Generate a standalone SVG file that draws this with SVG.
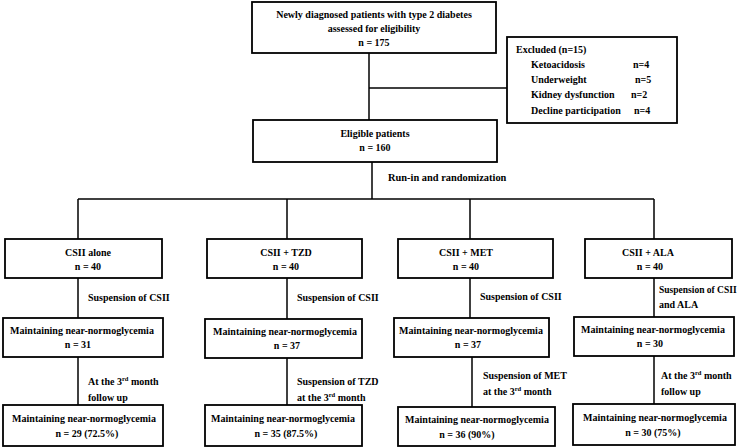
<svg xmlns="http://www.w3.org/2000/svg" width="741" height="448" viewBox="0 0 741 448">
<style>
rect{fill:#fff;stroke:#000;stroke-width:1.8}
line,path{stroke:#000;stroke-width:1.5;fill:none}
text{font-family:"Liberation Serif","Times New Roman",serif;font-weight:bold;font-size:10px;fill:#000}
.c{text-anchor:middle}
.l{font-size:10px}
.r{font-size:10.4px}
.s{font-size:6.5px}
</style>
<rect x="0" y="0" width="741" height="448" style="stroke:none"/>
<g id="connectors">
<line x1="369" y1="53" x2="369" y2="120"/>
<line x1="369" y1="88" x2="507" y2="88"/>
<line x1="372" y1="162" x2="372" y2="199"/>
<line x1="78" y1="199" x2="654" y2="199"/>
<line x1="78" y1="199" x2="78" y2="239"/>
<line x1="287" y1="199" x2="287" y2="239"/>
<line x1="470" y1="199" x2="470" y2="239"/>
<line x1="654" y1="199" x2="654" y2="239"/>
<line x1="78" y1="278" x2="78" y2="318"/>
<line x1="287" y1="278" x2="287" y2="319"/>
<line x1="470" y1="278" x2="470" y2="318"/>
<line x1="654" y1="278" x2="654" y2="317"/>
<line x1="78" y1="357" x2="78" y2="405"/>
<line x1="287" y1="358" x2="287" y2="405"/>
<line x1="472" y1="357" x2="472" y2="407"/>
<line x1="654" y1="356" x2="654" y2="404"/>
<text class="r" x="388" y="181">Run-in and randomization</text>
<text class="l" x="88" y="301">Suspension of CSII</text>
<text class="l" x="297" y="301">Suspension of CSII</text>
<text class="l" x="480" y="300">Suspension of CSII</text>
<text class="l" x="659" y="293" style="font-size:9.5px">Suspension of CSII</text>
<text class="l" x="659" y="308">and ALA</text>
<text class="l" x="88" y="385">At the 3<tspan class="s" dy="-4">rd</tspan><tspan dy="4"> month</tspan></text>
<text class="l" x="88" y="401">follow up</text>
<text class="l" x="297" y="385">Suspension of TZD</text>
<text class="l" x="297" y="401">at the 3<tspan class="s" dy="-4">rd</tspan><tspan dy="4"> month</tspan></text>
<text class="l" x="483" y="379">Suspension of MET</text>
<text class="l" x="483" y="395">at the 3<tspan class="s" dy="-4">rd</tspan><tspan dy="4"> month</tspan></text>
<text class="l" x="661" y="379">At the 3<tspan class="s" dy="-4">rd</tspan><tspan dy="4"> month</tspan></text>
<text class="l" x="661" y="395">follow up</text>
</g>
<g id="screening">
<rect x="252" y="2" width="244" height="51"/>
<text class="c" x="374" y="18">Newly diagnosed patients with type 2 diabetes</text>
<text class="c" x="374" y="32">assessed for eligibility</text>
<text class="c" x="374" y="46">n = 175</text>
</g>
<g id="excluded">
<rect x="507" y="37" width="170" height="86"/>
<text x="516" y="53">Excluded (n=15)</text>
<text x="531" y="68">Ketoacidosis</text><text x="633" y="68">n=4</text>
<text x="531" y="83">Underweight</text><text x="635" y="83">n=5</text>
<text x="531" y="98">Kidney dysfunction</text><text x="631" y="98">n=2</text>
<text x="531" y="114">Decline participation</text><text x="634" y="114">n=4</text>
</g>
<g id="eligible">
<rect x="253" y="120" width="244" height="42"/>
<text class="c" x="375" y="137">Eligible patients</text>
<text class="c" x="375" y="151">n = 160</text>
</g>
<g id="csii-alone">
<rect x="5" y="239" width="157" height="39"/>
<text class="c" x="88" y="256">CSII alone</text>
<text class="c" x="88" y="270">n = 40</text>
</g>
<g id="csii-tzd">
<rect x="207" y="239" width="155" height="39"/>
<text class="c" x="286" y="256">CSII + TZD</text>
<text class="c" x="286" y="270">n = 40</text>
</g>
<g id="csii-met">
<rect x="398" y="239" width="155" height="39"/>
<text class="c" x="466" y="256">CSII + MET</text>
<text class="c" x="466" y="270">n = 40</text>
</g>
<g id="csii-ala">
<rect x="585" y="239" width="147" height="39"/>
<text class="c" x="648" y="256">CSII + ALA</text>
<text class="c" x="650" y="270">n = 40</text>
</g>
<g id="alone-mid">
<rect x="3" y="318" width="160" height="39"/>
<text class="c" x="82" y="334">Maintaining near-normoglycemia</text>
<text class="c" x="78" y="348">n = 31</text>
</g>
<g id="tzd-mid">
<rect x="205" y="319" width="157" height="39"/>
<text class="c" x="285" y="335">Maintaining near-normoglycemia</text>
<text class="c" x="287" y="349">n = 37</text>
</g>
<g id="met-mid">
<rect x="394" y="318" width="155" height="39"/>
<text class="c" x="471" y="334">Maintaining near-normoglycemia</text>
<text class="c" x="468" y="348">n = 37</text>
</g>
<g id="ala-mid">
<rect x="574" y="317" width="160" height="39"/>
<text class="c" x="653" y="333">Maintaining near-normoglycemia</text>
<text class="c" x="650" y="347">n = 30</text>
</g>
<g id="alone-end">
<rect x="3" y="405" width="160" height="41"/>
<text class="c" x="84" y="422">Maintaining near-normoglycemia</text>
<text class="c" x="87" y="437">n = 29 (72.5%)</text>
</g>
<g id="tzd-end">
<rect x="205" y="405" width="157" height="41"/>
<text class="c" x="283" y="422">Maintaining near-normoglycemia</text>
<text class="c" x="286" y="437">n = 35 (87.5%)</text>
</g>
<g id="met-end">
<rect x="398" y="407" width="157" height="39"/>
<text class="c" x="477" y="423">Maintaining near-normoglycemia</text>
<text class="c" x="467" y="438">n = 36 (90%)</text>
</g>
<g id="ala-end">
<rect x="573" y="404" width="162" height="41"/>
<text class="c" x="655" y="421">Maintaining near-normoglycemia</text>
<text class="c" x="653" y="436">n = 30 (75%)</text>
</g>
</svg>
